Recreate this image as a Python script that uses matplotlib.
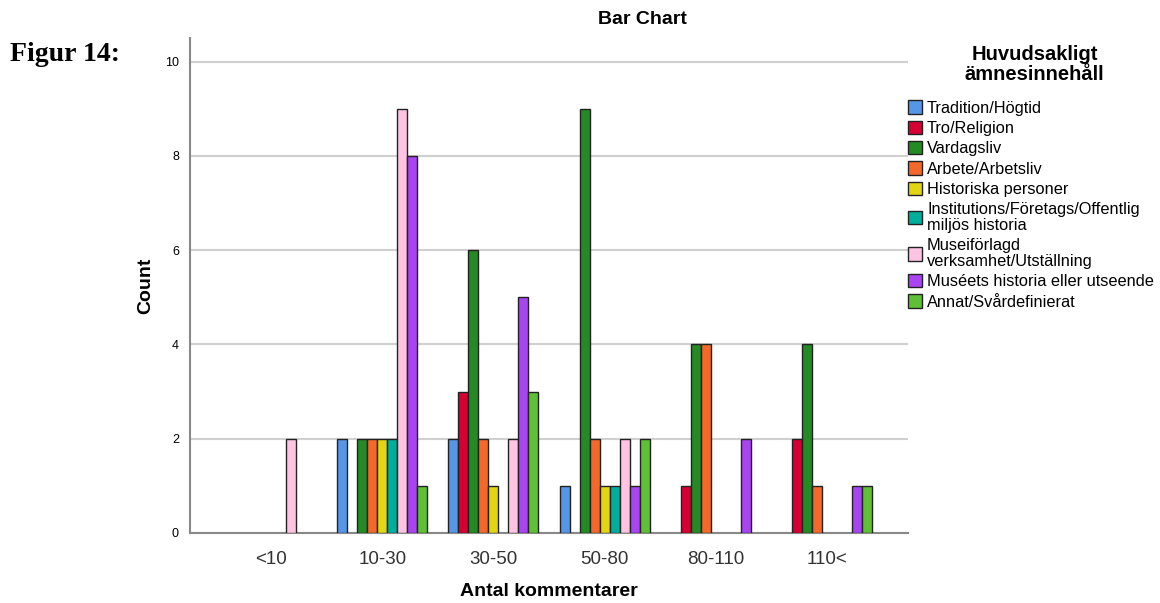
import numpy as np
import matplotlib
matplotlib.use("Agg")
import matplotlib.pyplot as plt
from matplotlib.patches import Patch

plt.rcParams['font.family'] = ['Liberation Sans', 'DejaVu Sans']

# data
groups = ["<10", "10-30", "30-50", "50-80", "80-110", "110<"]
series = ["Tradition/Högtid", "Tro/Religion", "Vardagsliv", "Arbete/Arbetsliv",
          "Historiska personer", "Institutions/Företags/Offentlig\nmiljös historia",
          "Museiförlagd\nverksamhet/Utställning", "Muséets historia eller utseende",
          "Annat/Svårdefinierat"]
colors = ["#5596E6", "#D60032", "#248A24", "#F4692A", "#E2D511",
          "#00AE9C", "#FFC4E1", "#A844F2", "#5DC035"]
tradition = [0, 2, 2, 1, 0, 0]
tro = [0, 0, 3, 0, 1, 2]
vardag = [0, 2, 6, 9, 4, 4]
arbete = [0, 2, 2, 2, 4, 1]
historiska = [0, 2, 1, 1, 0, 0]
institution = [0, 2, 0, 1, 0, 0]
museiforlagd = [2, 9, 2, 2, 0, 0]
museets = [0, 8, 5, 1, 2, 1]
annat = [0, 1, 3, 2, 0, 1]
values = [tradition, tro, vardag, arbete, historiska, institution,
          museiforlagd, museets, annat]
yticks = [0, 2, 4, 6, 8, 10]

fig = plt.figure(figsize=(11.6, 6.03), dpi=100)
ax = fig.add_axes([0.1638, 0.1161, 0.619, 0.821])

x = np.arange(len(groups))
w = 0.09
for i, vals in enumerate(values):
    vals = np.array(vals)
    keep = vals > 0
    ax.bar(x[keep] + (i - 4) * w, vals[keep], width=w, color=colors[i],
           edgecolor="#222222", linewidth=1.0, zorder=3)

ax.set_xlim(-0.73, 5.73)
ax.set_ylim(0, 10.5)
ax.set_yticks(yticks)
ax.set_xticks(x)
ax.set_xticklabels(groups, fontsize=13.5, color="#333333")
ax.tick_params(axis="y", length=0, labelsize=9, pad=8)
ax.tick_params(axis="x", length=0, pad=13)
ax.yaxis.grid(True, color="#d0d0d0", linewidth=1.5, zorder=0)
for s in ["top", "right"]:
    ax.spines[s].set_visible(False)
for s in ["left", "bottom"]:
    ax.spines[s].set_color("#888888")
    ax.spines[s].set_linewidth(1.5)

ax.set_xlabel("Antal kommentarer", fontsize=14, fontweight="bold", labelpad=11)
ax.set_ylabel("Count", fontsize=14, fontweight="bold", labelpad=8)
fig.text(0.554, 0.968, "Bar Chart", fontsize=14, fontweight="bold",
         ha="center", va="center")
fig.text(0.009, 0.91, "Figur 14:", family="Liberation Serif", fontsize=20,
         fontweight="bold", va="center")

# legend title drawn separately so the gap below it matches
fig.text(0.892, 0.893, "Huvudsakligt\nämnesinnehåll", fontsize=14.5,
         fontweight="bold", ha="center", va="center", linespacing=1.05)

handles = [Patch(facecolor=c, edgecolor="#222222", linewidth=1.0) for c in colors]
leg = fig.legend(handles, series, loc="upper left", bbox_to_anchor=(0.7755, 0.847),
                 frameon=False, fontsize=11.8, handlelength=0.88, handleheight=0.88,
                 handletextpad=0.3, labelspacing=0.3, borderpad=0)
for t in leg.get_texts():
    t.set_linespacing(1.1)

fig.savefig("out.png", dpi=100)
